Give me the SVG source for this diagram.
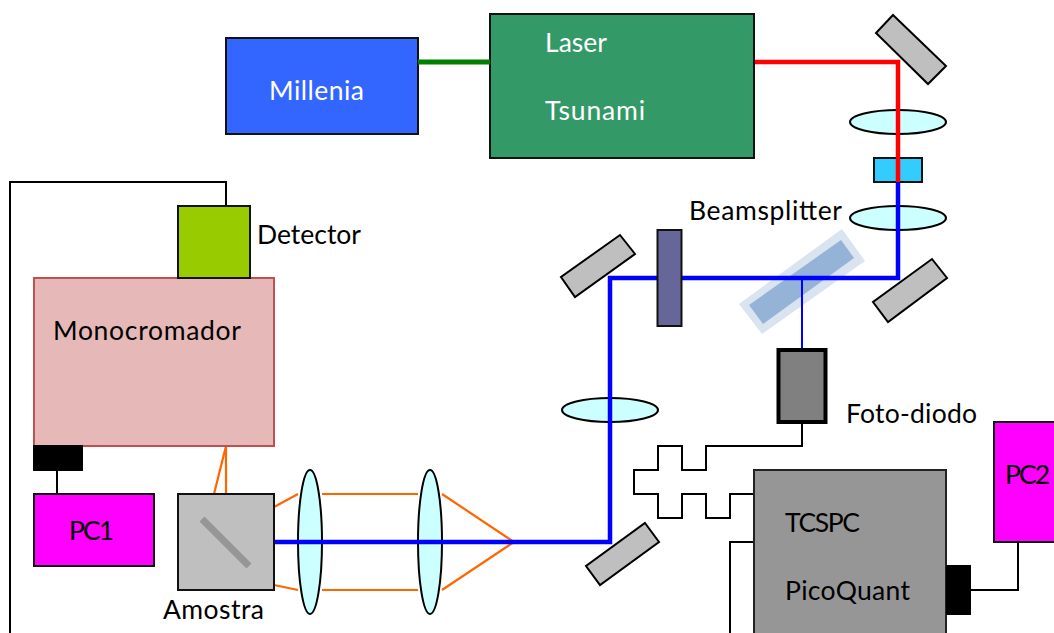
<svg xmlns="http://www.w3.org/2000/svg" width="1054" height="633" viewBox="0 0 1054 633">
<style>
text{font-family:"Lato","Open Sans",sans-serif;font-size:26.5px;fill:#000}
text.w{fill:#fff}
.box{stroke:#111;stroke-width:2}
.mirror{fill:#BFBFBF;stroke:#000;stroke-width:2}
.lens{fill:#CCFFFF;stroke:#000;stroke-width:2}
.wire{fill:none;stroke:#000;stroke-width:2}
.orange{fill:none;stroke:#FF6600;stroke-width:2.2}
.blue{fill:none;stroke:#0000FF;stroke-width:4.500}
.block{fill:#000}
</style>
<rect width="1054" height="633" fill="#fff"/>
<g id="connectors-back">
<path class="wire" d="M226 206V182H10V633"/>
<path class="wire" d="M57 470V494"/>
<path class="wire" d="M802 424V446H706V470H682V446H658V470H634V494H658V518H682V494H706V518H730V494H754"/>
<path class="wire" d="M754 542H730V633"/>
<path class="wire" d="M971 590H1018V542"/>
<path class="orange" d="M214 494L226 446V494"/>
<path class="orange" d="M274 507L298 494M322 494H418M442 494L514 542L442 590M322 590H418M298 590L274 585"/>
</g>
<g id="millenia"><rect class="box" x="226" y="38" width="192" height="96" fill="#3366FF"/><text class="w" x="269" y="100" textLength="95">Millenia</text></g>
<g id="laser"><rect class="box" x="490" y="14" width="264" height="144" fill="#339966"/><text class="w" x="545" y="52" textLength="62">Laser</text><text class="w" x="545" y="120" textLength="100">Tsunami</text></g>
<g id="mirror-top"><polygon class="mirror" points="893,15 946,66 928,84 876,33"/></g>
<g id="lens-1"><ellipse class="lens" cx="898" cy="122" rx="48" ry="12"/></g>
<g id="crystal"><rect class="box" x="874" y="158" width="48" height="24" fill="#33CCFF"/></g>
<g id="lens-2"><ellipse class="lens" cx="898" cy="218" rx="48" ry="12"/></g>
<g id="mirror-right"><polygon class="mirror" points="932,259 947,278 888,322 873,302"/></g>
<g id="mirror-left"><polygon class="mirror" points="620,235 635,254 575,297 561,277"/></g>
<g id="beamsplitter"><polygon points="842,229 865,261 762,334 739,304" fill="#DAE3F0"/><polygon points="841,240 854,258 763,324 749,305" fill="#95B3D7"/><text x="689" y="220" textLength="153">Beamsplitter</text></g>
<g id="lens-3"><ellipse class="lens" cx="610" cy="410" rx="48" ry="12"/></g>
<g id="mirror-bottom"><polygon class="mirror" points="645,523 659,542 600,585 586,566"/></g>
<g id="sample"><rect class="box" x="178" y="494" width="96" height="96" fill="#BFBFBF"/><path d="M202 519L249 566" stroke="#969696" stroke-width="7" fill="none"/><text x="163" y="619" textLength="101">Amostra</text></g>
<g id="lens-4"><ellipse class="lens" cx="310" cy="542" rx="12" ry="72"/></g>
<g id="lens-5"><ellipse class="lens" cx="430" cy="542" rx="12" ry="72"/></g>
<g id="beams">
<path d="M418 62H490" fill="none" stroke="#008000" stroke-width="5"/>
<path class="blue" d="M898 182V278H610V542H275"/>
<path d="M755 62H898V182" fill="none" stroke="#FF0000" stroke-width="4.500"/>
<path d="M802 278V349" fill="none" stroke="#0000FF" stroke-width="2"/>
</g>
<g id="wave-plate"><rect class="box" x="657.500" y="230" width="24" height="96" fill="#666699"/></g>
<g id="photodiode"><rect x="778.500" y="350" width="47" height="72" fill="#808080" stroke="#000" stroke-width="4"/><text x="846" y="423" textLength="131">Foto-diodo</text></g>
<g id="tcspc"><rect x="754" y="470" width="192" height="180" fill="#969696" stroke="#222" stroke-width="2"/><text x="785" y="532" textLength="75">TCSPC</text><text x="785" y="600" textLength="125">PicoQuant</text></g>
<g id="tcspc-port"><rect class="block" x="946" y="565" width="25" height="50"/></g>
<g id="pc2"><rect class="box" x="994" y="422" width="72" height="120" fill="#FF00FF"/><text x="1005" y="484" textLength="45">PC2</text></g>
<g id="monochromator"><rect x="34" y="278" width="240" height="168" fill="#E6B8B7" stroke="#C0504D" stroke-width="2"/><text x="53" y="340" textLength="188">Monocromador</text></g>
<g id="detector"><rect class="box" x="178" y="206" width="72" height="72" fill="#99CC00"/><text x="257" y="244" textLength="104">Detector</text></g>
<g id="mono-port"><rect class="block" x="33" y="445" width="50" height="26"/></g>
<g id="pc1"><rect class="box" x="34" y="494" width="120" height="72" fill="#FF00FF"/><text x="69" y="540" textLength="45">PC1</text></g>
</svg>
